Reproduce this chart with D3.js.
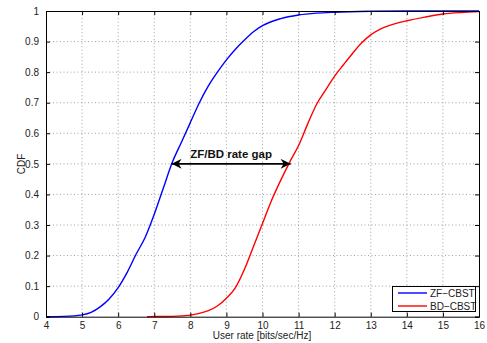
<!DOCTYPE html>
<html>
<head>
<meta charset="utf-8">
<script src="https://cdnjs.cloudflare.com/ajax/libs/d3/7.8.5/d3.min.js"></script>
<style>
 body { margin:0; background:#fff; }
 text { font-family: "Liberation Sans", Arial, sans-serif; }
</style>
</head>
<body>
<div class="chart"></div>
<script>
// ZF-CBST cdf
var zfRate = [4, 4.5, 5, 5.25, 5.5, 5.75, 6, 6.25, 6.5, 6.75, 7, 7.25, 7.5, 7.75, 8, 8.25, 8.5, 8.75, 9, 9.25, 9.5, 9.75, 10, 10.5, 11, 11.5, 12, 13, 14, 16];
var zfCdf  = [0, 0.001, 0.006, 0.014, 0.032, 0.058, 0.095, 0.145, 0.205, 0.26, 0.335, 0.42, 0.505, 0.57, 0.635, 0.70, 0.755, 0.80, 0.84, 0.875, 0.905, 0.932, 0.952, 0.975, 0.987, 0.993, 0.996, 0.999, 1, 1];
// BD-CBST cdf
var bdRate = [6.8, 7, 7.5, 8, 8.25, 8.5, 8.75, 9, 9.25, 9.5, 9.75, 10, 10.25, 10.5, 10.75, 11, 11.25, 11.5, 11.75, 12, 12.25, 12.5, 12.75, 13, 13.25, 13.5, 13.75, 14, 14.5, 15, 15.5, 16];
var bdCdf  = [0, 0.0005, 0.001, 0.005, 0.011, 0.02, 0.035, 0.06, 0.095, 0.155, 0.23, 0.305, 0.38, 0.445, 0.505, 0.56, 0.63, 0.695, 0.742, 0.787, 0.825, 0.862, 0.896, 0.922, 0.94, 0.952, 0.961, 0.968, 0.98, 0.99, 0.995, 0.998];

var xTicks = [4,5,6,7,8,9,10,11,12,13,14,15,16];
var yTicks = [0,0.1,0.2,0.3,0.4,0.5,0.6,0.7,0.8,0.9,1];
var seriesNames = ["ZF\u2212CBST", "BD\u2212CBST"];
var seriesColors = ["#0000ff", "#ff0000"];
var gapFrom = 7.48, gapTo = 10.78, gapLevel = 0.5;

var svg = d3.select(".chart").append("svg")
     .attr("width",487)
     .attr("height",343);

var x = d3.scaleLinear().domain([4,16]).range([46,479]);
var y = d3.scaleLinear().domain([0,1]).range([316.7,11]);

// grid
svg.append("g").selectAll("line").data(xTicks.slice(1,-1)).enter().append("line")
   .attr("x1",d=>x(d)).attr("x2",d=>x(d)).attr("y1",y(0)).attr("y2",y(1))
   .attr("stroke","#888").attr("stroke-width",0.8).attr("stroke-dasharray","1,2.5");
svg.append("g").selectAll("line").data(yTicks.slice(1,-1)).enter().append("line")
   .attr("y1",d=>y(d)).attr("y2",d=>y(d)).attr("x1",x(4)).attr("x2",x(16))
   .attr("stroke","#888").attr("stroke-width",0.8).attr("stroke-dasharray","1,2.5");

// curves
var line = d3.line().x(d=>x(d[0])).y(d=>y(d[1])).curve(d3.curveMonotoneX);
svg.append("path").attr("d",line(d3.zip(zfRate,zfCdf)))
   .attr("fill","none").attr("stroke",seriesColors[0]).attr("stroke-width",1.4);
svg.append("path").attr("d",line(d3.zip(bdRate,bdCdf)))
   .attr("fill","none").attr("stroke",seriesColors[1]).attr("stroke-width",1.4);

// axes with inward ticks
var axBottom = svg.append("g").attr("transform","translate(0,"+y(0)+")")
   .call(d3.axisBottom(x).tickValues(xTicks).tickSize(-4).tickPadding(5).tickFormat(d3.format("d")));
var axTop = svg.append("g").attr("transform","translate(0,"+y(1)+")")
   .call(d3.axisTop(x).tickValues(xTicks).tickSize(-4).tickFormat(""));
var axLeft = svg.append("g").attr("transform","translate("+x(4)+",0)")
   .call(d3.axisLeft(y).tickValues(yTicks).tickSize(-4).tickPadding(7).tickFormat(d=> d==0||d==1 ? d3.format("d")(d) : d3.format(".1f")(d)));
var axRight = svg.append("g").attr("transform","translate("+x(16)+",0)")
   .call(d3.axisRight(y).tickValues(yTicks).tickSize(-4).tickFormat(""));
[axBottom,axTop,axLeft,axRight].forEach(function(g){
  g.selectAll("path").attr("stroke","#000").attr("stroke-width",1);
  g.selectAll("line").attr("stroke","#000");
  g.selectAll("text").attr("font-size",10).attr("fill","#222").attr("font-family","Liberation Sans, Arial, sans-serif");
});

// labels
svg.append("text").attr("x",262).attr("y",339).attr("text-anchor","middle")
   .attr("font-size",10).attr("fill","#222").text("User rate [bits/sec/Hz]");
svg.append("text").attr("transform","translate(25,164) rotate(-90)").attr("text-anchor","middle")
   .attr("font-size",10).attr("fill","#222").text("CDF");

// gap annotation
var defs = svg.append("defs");
defs.append("marker").attr("id","ah").attr("viewBox","0 0 10 10").attr("refX",10).attr("refY",5)
   .attr("markerWidth",12).attr("markerHeight",10).attr("orient","auto-start-reverse")
   .attr("markerUnits","userSpaceOnUse")
   .append("path").attr("d","M0,0 L10,5 L0,10 L3,5 Z").attr("fill","#000");
svg.append("line").attr("x1",x(gapFrom)).attr("x2",x(gapTo)).attr("y1",y(gapLevel)).attr("y2",y(gapLevel))
   .attr("stroke","#000").attr("stroke-width",1.8)
   .attr("marker-start","url(#ah)").attr("marker-end","url(#ah)");
svg.append("text").attr("x",(x(gapFrom)+x(gapTo))/2).attr("y",y(gapLevel)-6).attr("text-anchor","middle")
   .attr("font-size",11.5).attr("font-weight","bold").attr("fill","#111").text("ZF/BD rate gap");

// legend
var lg = svg.append("g");
lg.append("rect").attr("x",392.5).attr("y",286.5).attr("width",83).attr("height",25)
   .attr("fill","#fff").attr("stroke","#000").attr("stroke-width",1);
seriesNames.forEach(function(n,i){
  var ly = 293 + i*13;
  lg.append("line").attr("x1",398).attr("x2",427).attr("y1",ly).attr("y2",ly)
    .attr("stroke",seriesColors[i]).attr("stroke-width",1.4);
  lg.append("text").attr("x",430).attr("y",ly+3.5).attr("font-size",10).attr("fill","#222").text(n);
});
</script>
</body>
</html>
